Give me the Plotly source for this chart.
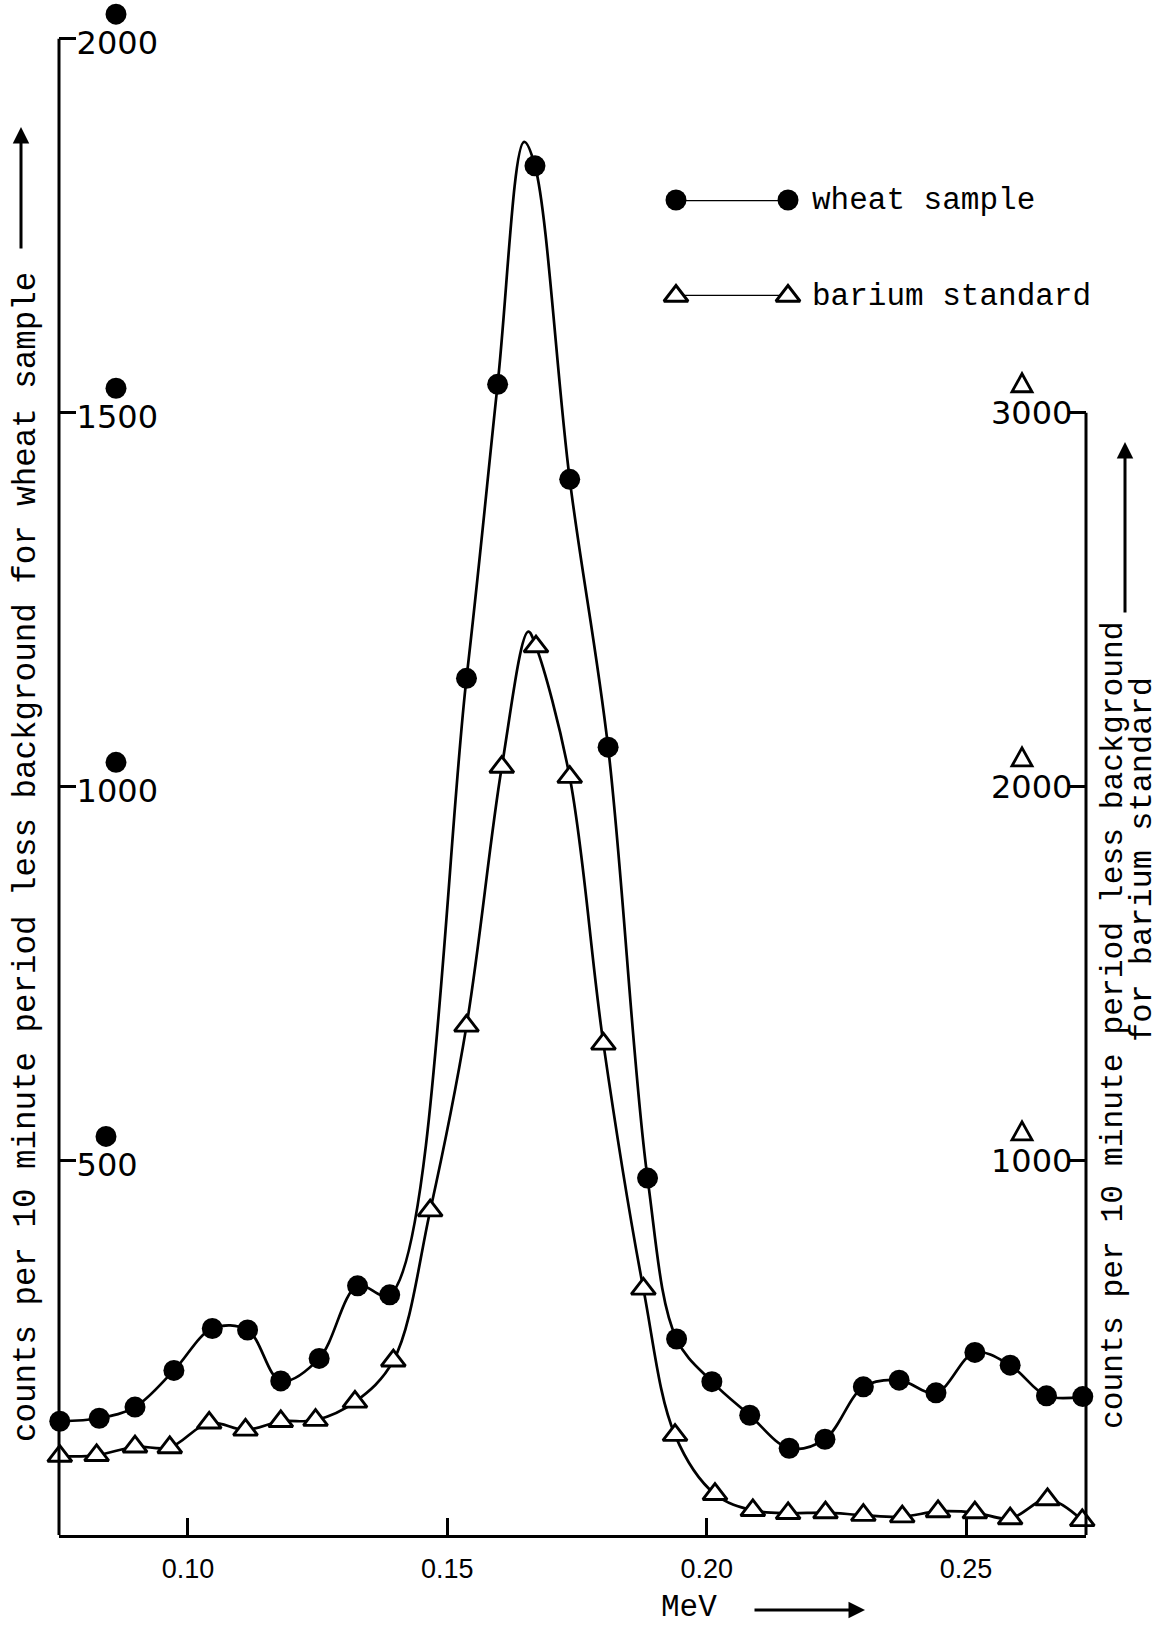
import plotly.graph_objects as go

# ---- gamma spectrum readings: wheat sample vs barium standard ----
wheat_mev = [0.0753, 0.0829, 0.0898, 0.0973, 0.1047, 0.1115, 0.1179, 0.1253, 0.1327, 0.1389,
             0.1537, 0.1597, 0.1669, 0.1736, 0.1810, 0.1886, 0.1942, 0.2010, 0.2083, 0.2159,
             0.2228, 0.2302, 0.2371, 0.2442, 0.2517, 0.2585, 0.2655, 0.2725]
wheat_counts = [152, 156, 171, 220, 276, 274, 206, 236, 333, 321,
                1145, 1538, 1830, 1411, 1053, 477, 262, 205, 160, 116,
                128, 198, 207, 190, 244, 227, 186, 185]

barium_mev = [0.0753, 0.0824, 0.0898, 0.0965, 0.1041, 0.1111, 0.1179, 0.1246, 0.1322, 0.1396,
              0.1467, 0.1537, 0.1605, 0.1671, 0.1736, 0.1801, 0.1878, 0.1939, 0.2016, 0.2089,
              0.2157, 0.2229, 0.2302, 0.2377, 0.2446, 0.2517, 0.2585, 0.2657, 0.2724]
barium_counts = [211, 213, 236, 234, 300, 281, 304, 307, 356, 466,
                 867, 1361, 2053, 2375, 2026, 1313, 658, 267, 109, 66,
                 58, 60, 53, 49, 63, 60, 44, 95, 39]

# apex of each hand-drawn peak (the fitted curve rises above the nearest reading)
wheat_apex = (0.1648, 1862)
barium_apex = (0.1656, 2415)

x_ticks = [0.10, 0.15, 0.20, 0.25]
x_tick_text = ["0.10", "0.15", "0.20", "0.25"]
wheat_ticks = [500, 1000, 1500, 2000]
wheat_tick_text = ["500", "1000", "1500", "2000"]
barium_ticks = [1000, 2000, 3000]
barium_tick_text = ["1000", "2000", "3000"]

WHEAT_TOP = 2000      # left axis line ends here
BARIUM_TOP = 3000     # right axis line ends here
Y_MAX = 2045          # a little headroom so the top label stays visible
X_RANGE = [0.07515, 0.27312]

W, H = 1168, 1625
X0_PX, X1_PX = 59, 1086          # left / right axis columns
ZERO_PX, PX_PER_COUNT = 1535, 0.748
ML, MR = X0_PX, W - X1_PX
MB = H - ZERO_PX
MT = ZERO_PX - round(Y_MAX * PX_PER_COUNT)
PW, PH = W - ML - MR, H - MT - MB

NUM_FONT = "DejaVu Sans"
XNUM_FONT = "Liberation Sans"
TYPE_FONT = "Liberation Mono"
INK = "black"


def px_x(px):
    """page pixel column -> paper fraction"""
    return (px - ML) / PW


def px_y(py):
    """page pixel row -> paper fraction"""
    return (H - MB - py) / PH


def with_apex(xs, ys, apex):
    pts = sorted(list(zip(xs, ys)) + [apex])
    return [p[0] for p in pts], [p[1] for p in pts]


fig = go.Figure()

wx, wy = with_apex(wheat_mev, wheat_counts, wheat_apex)
bx, by = with_apex(barium_mev, barium_counts, barium_apex)

# smooth curves first, then markers on top
fig.add_trace(go.Scatter(x=wx, y=wy, mode="lines", yaxis="y",
                         line=dict(color=INK, width=2.7, shape="spline", smoothing=1.0),
                         hoverinfo="skip", showlegend=False))
fig.add_trace(go.Scatter(x=bx, y=by, mode="lines", yaxis="y2",
                         line=dict(color=INK, width=2.7, shape="spline", smoothing=1.0),
                         hoverinfo="skip", showlegend=False))
fig.add_trace(go.Scatter(x=wheat_mev, y=wheat_counts, mode="markers", yaxis="y",
                         name="wheat sample", cliponaxis=False,
                         marker=dict(symbol="circle", size=21, color=INK, line=dict(width=0))))
fig.add_trace(go.Scatter(x=barium_mev, y=barium_counts, mode="markers", yaxis="y2",
                         name="barium standard", cliponaxis=False,
                         marker=dict(symbol="triangle-up", size=21, color="white",
                                     line=dict(color=INK, width=2.9))))

# legend keys drawn on their own small axes: marker at both ends of a line
fig.add_trace(go.Scatter(x=[0, 1], y=[1, 1], xaxis="x3", yaxis="y3", mode="lines+markers",
                         cliponaxis=False, hoverinfo="skip", showlegend=False,
                         line=dict(color=INK, width=2.7),
                         marker=dict(symbol="circle", size=21, color=INK)))
fig.add_trace(go.Scatter(x=[0, 1], y=[0, 0], xaxis="x3", yaxis="y3", mode="lines+markers",
                         cliponaxis=False, hoverinfo="skip", showlegend=False,
                         line=dict(color=INK, width=2.7),
                         marker=dict(symbol="triangle-up", size=21, color="white",
                                     line=dict(color=INK, width=2.9))))

axis_common = dict(showgrid=False, zeroline=False, ticks="inside", tickwidth=3,
                   tickcolor=INK, ticklen=17)

fig.update_layout(
    width=W, height=H,
    margin=dict(l=ML, r=MR, t=MT, b=MB),
    paper_bgcolor="white", plot_bgcolor="white",
    showlegend=False,
    xaxis=dict(range=X_RANGE, showline=True, linecolor=INK, linewidth=3,
               tickvals=x_ticks, ticktext=x_tick_text, ticklabelstandoff=8,
               tickfont=dict(family=XNUM_FONT, size=27, color=INK), **axis_common),
    yaxis=dict(range=[0, Y_MAX], showline=False,
               tickvals=wheat_ticks, ticktext=wheat_tick_text,
               ticklabelposition="inside", ticklabelstandoff=4, ticklabelshift=4,
               tickfont=dict(family=NUM_FONT, size=32, color=INK), **axis_common),
    yaxis2=dict(range=[0, 2 * Y_MAX], overlaying="y", side="right", showline=False,
                tickvals=barium_ticks, ticktext=barium_tick_text,
                ticklabelposition="inside", ticklabelstandoff=0,
                tickfont=dict(family=NUM_FONT, size=32, color=INK), **axis_common),
    xaxis3=dict(domain=[px_x(676), px_x(788)], range=[0, 1], visible=False, anchor="y3"),
    yaxis3=dict(domain=[px_y(296), px_y(200)], range=[0, 1], visible=False, anchor="x3"),
)

shapes = []
# left axis line from 0 to 2000, right axis line from 0 to 3000
shapes.append(dict(type="line", xref="paper", yref="y", x0=0, x1=0, y0=0, y1=WHEAT_TOP,
                   line=dict(color=INK, width=3)))
shapes.append(dict(type="line", xref="paper", yref="y2", x0=1, x1=1, y0=0, y1=BARIUM_TOP,
                   line=dict(color=INK, width=3)))
# series symbol above each left tick label
for v in wheat_ticks:
    cx = px_x(106 if v < 1000 else 116)
    shapes.append(dict(type="circle", xref="paper", yref="paper",
                       xsizemode="pixel", ysizemode="pixel",
                       xanchor=cx, yanchor=v / Y_MAX, x0=-10.5, x1=10.5, y0=14, y1=35,
                       fillcolor=INK, line=dict(width=0)))
# series symbol above each right tick label
for v in barium_ticks:
    shapes.append(dict(type="path", xref="paper", yref="paper",
                       xsizemode="pixel", ysizemode="pixel",
                       xanchor=px_x(1022), yanchor=v / (2 * Y_MAX),
                       path="M -10,21 L 10,21 L 0,39 Z",
                       fillcolor="white", line=dict(color=INK, width=2.8)))
fig.update_layout(shapes=shapes)

annotations = []


def label(text, px, py, angle=0, anchor="center", size=31):
    annotations.append(dict(xref="paper", yref="paper", x=px_x(px), y=px_y(py),
                            xanchor=anchor, yanchor="middle", text=text,
                            textangle=angle, showarrow=False,
                            font=dict(family=TYPE_FONT, size=size, color=INK)))


def arrow(head_px, head_py, dx, dy):
    annotations.append(dict(xref="paper", yref="paper", x=px_x(head_px), y=px_y(head_py),
                            ax=dx, ay=dy, text="", showarrow=True, arrowhead=2,
                            arrowsize=1.1, arrowwidth=3, arrowcolor=INK))


# left axis title with arrow
label("counts per 10 minute period less background for wheat sample", 26, 857, -90, size=32.5)
arrow(21, 127, 0, 123)
# right axis title (two lines) with arrow
label("counts per 10 minute period less background", 1113, 1025, -90, size=31.3)
label("for barium standard", 1142, 860, -90, size=32)
arrow(1125, 442, 0, 172)
# x axis title with arrow
label("MeV", 689, 1607, size=31)
arrow(865, 1610, -112, 0)
# legend labels
label("wheat sample", 810, 200, anchor="left")
label("barium standard", 810, 296, anchor="left")
fig.update_layout(annotations=annotations)

fig.write_html("out.html")
